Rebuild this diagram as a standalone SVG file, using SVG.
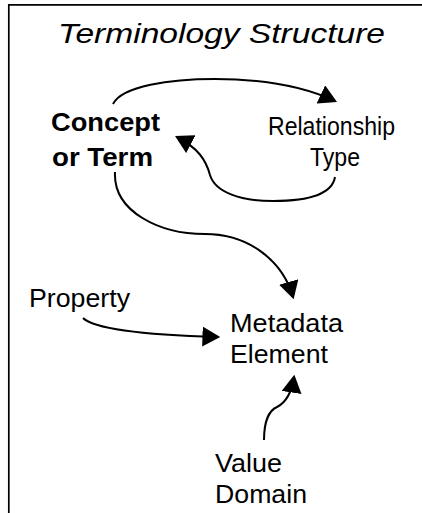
<svg xmlns="http://www.w3.org/2000/svg" width="422" height="513" viewBox="0 0 422 513">
  <style>
    .lbl { font-family: "Liberation Sans", Arial, sans-serif; font-size: 25px; fill: #000; }
    .bold { font-weight: bold; }
    .title { font-style: italic; font-size: 27px; }
    .edge { fill: none; stroke: #000; stroke-width: 2; marker-end: url(#head); }
    .frame { fill: none; stroke: #000; stroke-width: 1.7; }
  </style>
  <defs>
    <marker id="head" markerUnits="userSpaceOnUse" markerWidth="18" markerHeight="20" viewBox="0 0 16 18" refX="14" refY="9" orient="auto">
      <path d="M0,0 L16,9 L0,18 z" fill="#000"/>
    </marker>
  </defs>

  <rect width="422" height="513" fill="#fff"/>

  <!-- frame: top and left rules only -->
  <path class="frame" d="M8.8,513 V4.8 H422"/>

  <text id="title" class="lbl title" x="58" y="43" textLength="327" lengthAdjust="spacingAndGlyphs">Terminology Structure</text>

  <g id="concept">
    <text class="lbl bold" x="51" y="131" textLength="109" lengthAdjust="spacingAndGlyphs">Concept</text>
    <text class="lbl bold" x="52" y="166" textLength="101" lengthAdjust="spacingAndGlyphs">or Term</text>
  </g>
  <g id="relationship-type">
    <text class="lbl" x="268" y="135" textLength="127" lengthAdjust="spacingAndGlyphs">Relationship</text>
    <text class="lbl" x="310" y="166" textLength="50" lengthAdjust="spacingAndGlyphs">Type</text>
  </g>
  <g id="property">
    <text class="lbl" x="29" y="307" textLength="101" lengthAdjust="spacingAndGlyphs">Property</text>
  </g>
  <g id="metadata-element">
    <text class="lbl" x="230" y="332" textLength="113" lengthAdjust="spacingAndGlyphs">Metadata</text>
    <text class="lbl" x="230" y="363" textLength="98" lengthAdjust="spacingAndGlyphs">Element</text>
  </g>
  <g id="value-domain">
    <text class="lbl" x="215" y="472" textLength="67" lengthAdjust="spacingAndGlyphs">Value</text>
    <text class="lbl" x="215" y="503" textLength="92" lengthAdjust="spacingAndGlyphs">Domain</text>
  </g>

  <g id="connectors">
    <!-- concept to relationship type -->
    <path class="edge" d="M113,104 C122,86 170,79 215,79 C265,79 305,87 335,101"/>
    <!-- relationship type back to concept -->
    <path class="edge" d="M335,177 C332,195 305,201 273,201 C240,201 215,192 210,175 C206,160 198,148 177,137"/>
    <!-- concept to metadata element -->
    <path class="edge" d="M115,172 C113,212 160,234 205,234 C250,234 283,262 293,297"/>
    <!-- property to metadata element -->
    <path class="edge" d="M83,318 C95,330 150,335 218,337"/>
    <!-- value domain to metadata element -->
    <path class="edge" d="M264,440 C264,420 270,410 277,407 C287,402 292,390 294,377"/>
  </g>
</svg>
